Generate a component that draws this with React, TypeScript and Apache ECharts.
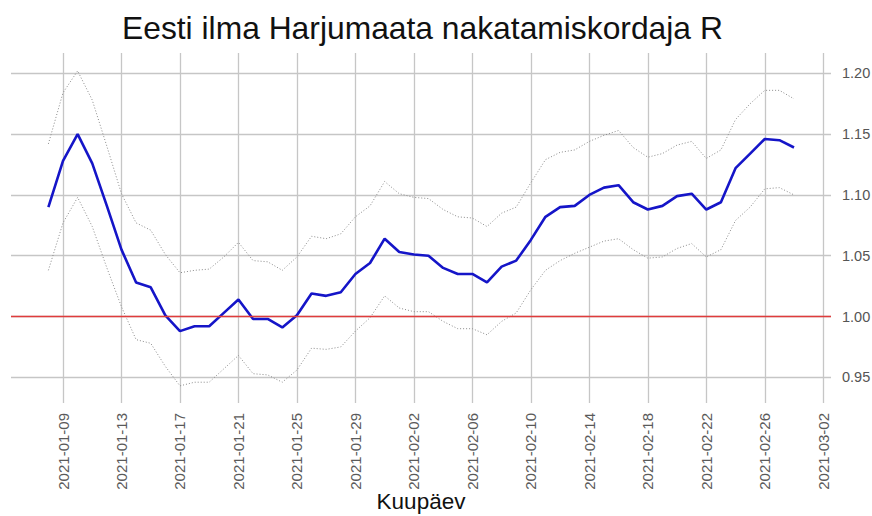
import React, { useEffect, useRef } from 'react';
import * as echarts from 'echarts';

const dates = [
  '2021-01-08', '2021-01-09', '2021-01-10', '2021-01-11', '2021-01-12', '2021-01-13', '2021-01-14', '2021-01-15',
  '2021-01-16', '2021-01-17', '2021-01-18', '2021-01-19', '2021-01-20', '2021-01-21', '2021-01-22', '2021-01-23',
  '2021-01-24', '2021-01-25', '2021-01-26', '2021-01-27', '2021-01-28', '2021-01-29', '2021-01-30', '2021-01-31',
  '2021-02-01', '2021-02-02', '2021-02-03', '2021-02-04', '2021-02-05', '2021-02-06', '2021-02-07', '2021-02-08',
  '2021-02-09', '2021-02-10', '2021-02-11', '2021-02-12', '2021-02-13', '2021-02-14', '2021-02-15', '2021-02-16',
  '2021-02-17', '2021-02-18', '2021-02-19', '2021-02-20', '2021-02-21', '2021-02-22', '2021-02-23', '2021-02-24',
  '2021-02-25', '2021-02-26', '2021-02-27', '2021-02-28',
];

const rMean = [
  1.090, 1.128, 1.150, 1.126, 1.091, 1.055, 1.028, 1.024,
  1.001, 0.988, 0.992, 0.992, 1.003, 1.014, 0.998, 0.998,
  0.991, 1.001, 1.019, 1.017, 1.020, 1.035, 1.044, 1.064,
  1.053, 1.051, 1.050, 1.040, 1.035, 1.035, 1.028, 1.041,
  1.046, 1.063, 1.082, 1.090, 1.091, 1.100, 1.106, 1.108,
  1.094, 1.088, 1.091, 1.099, 1.101, 1.088, 1.094, 1.122,
  1.134, 1.146, 1.145, 1.139,
];

const rUpper = [
  1.142, 1.184, 1.202, 1.178, 1.140, 1.101, 1.077, 1.071,
  1.051, 1.036, 1.038, 1.039, 1.049, 1.061, 1.046, 1.045,
  1.038, 1.049, 1.066, 1.064, 1.068, 1.082, 1.091, 1.111,
  1.101, 1.098, 1.097, 1.088, 1.082, 1.081, 1.074, 1.085,
  1.090, 1.110, 1.129, 1.135, 1.137, 1.144, 1.149, 1.153,
  1.139, 1.131, 1.134, 1.141, 1.144, 1.130, 1.137, 1.162,
  1.175, 1.186, 1.186, 1.179,
];

const rLower = [
  1.038, 1.077, 1.098, 1.074, 1.040, 1.008, 0.981, 0.978,
  0.959, 0.943, 0.946, 0.946, 0.957, 0.968, 0.953, 0.952,
  0.946, 0.956, 0.974, 0.973, 0.975, 0.988, 0.999, 1.017,
  1.007, 1.004, 1.004, 0.996, 0.990, 0.990, 0.985, 0.996,
  1.003, 1.022, 1.038, 1.046, 1.052, 1.057, 1.062, 1.064,
  1.055, 1.048, 1.049, 1.056, 1.060, 1.049, 1.055, 1.079,
  1.090, 1.105, 1.106, 1.100,
];

const xTickDates = [
  '2021-01-09', '2021-01-13', '2021-01-17', '2021-01-21', '2021-01-25', '2021-01-29', '2021-02-02',
  '2021-02-06', '2021-02-10', '2021-02-14', '2021-02-18', '2021-02-22', '2021-02-26', '2021-03-02',
];
const yTicks = [0.95, 1.0, 1.05, 1.1, 1.15, 1.2];
const refLine = 1.0;

const DAY = 86400000;
const T0 = Date.UTC(2021, 0, 1);
const toDay = (s: string) => {
  const [y, m, d] = s.split('-').map(Number);
  return (Date.UTC(y, m - 1, d) - T0) / DAY;
};
const fromDay = (n: number) => new Date(T0 + Math.round(n) * DAY).toISOString().slice(0, 10);

const FONT = "'Liberation Sans', Arial, sans-serif";

export default function App() {
  const ref = useRef<HTMLDivElement>(null);
  useEffect(() => {
    document.body.style.margin = '0';
    if (!ref.current) return;
    const chart = echarts.init(ref.current, undefined, { renderer: 'svg' });
    const xTickVals = xTickDates.map(toDay);
    const toPts = (arr: number[]) => arr.map((v, i) => [toDay(dates[i]), v]);
    const gridLine = { show: true, lineStyle: { color: '#c6c6c6', width: 1.3 } };
    chart.setOption({
      animation: false,
      backgroundColor: '#ffffff',
      title: {
        text: 'Eesti ilma Harjumaata nakatamiskordaja R',
        left: 122,
        top: 12,
        padding: 0,
        textStyle: { fontFamily: FONT, fontSize: 31.8, fontWeight: 'normal', color: '#111' },
      },
      grid: { left: 11, right: 41, top: 53, bottom: 113, containLabel: false, outerBoundsMode: 'none' },
      xAxis: {
        type: 'value',
        min: 4.443,
        max: 60.53,
        name: 'Kuupäev',
        nameLocation: 'middle',
        nameGap: 87,
        nameMoveOverlap: false,
        nameTextStyle: { fontFamily: FONT, fontSize: 22.5, color: '#111' },
        axisLine: { show: false },
        axisTick: { show: false, customValues: xTickVals },
        axisLabel: {
          customValues: xTickVals,
          formatter: (v: number) => fromDay(v),
          rotate: 90,
          margin: 10,
          fontFamily: FONT,
          fontSize: 15,
          color: '#5a5a5a',
        },
        splitLine: gridLine,
      },
      yAxis: {
        type: 'value',
        position: 'right',
        min: 0.9289,
        max: 1.2167,
        axisLine: { show: false },
        axisTick: { show: false, customValues: yTicks },
        axisLabel: {
          customValues: yTicks,
          formatter: (v: number) => v.toFixed(2),
          margin: 11,
          fontFamily: FONT,
          fontSize: 14.5,
          color: '#555',
        },
        splitLine: gridLine,
      },
      series: [
        {
          type: 'line',
          data: toPts(rUpper),
          symbol: 'none',
          lineStyle: { color: '#8a8a8a', width: 1, type: [1, 2] },
          z: 2,
        },
        {
          type: 'line',
          data: toPts(rLower),
          symbol: 'none',
          lineStyle: { color: '#8a8a8a', width: 1, type: [1, 2] },
          z: 2,
          markLine: {
            silent: true,
            symbol: 'none',
            label: { show: false },
            lineStyle: { color: '#e03c3c', width: 1.3, type: 'solid' },
            data: [{ yAxis: refLine }],
          },
        },
        {
          type: 'line',
          data: toPts(rMean),
          symbol: 'none',
          lineStyle: { color: '#1515c8', width: 2.6 },
          z: 3,
        },
      ],
    });
    return () => chart.dispose();
  }, []);
  return <div ref={ref} style={{ width: 872, height: 516 }} />;
}
